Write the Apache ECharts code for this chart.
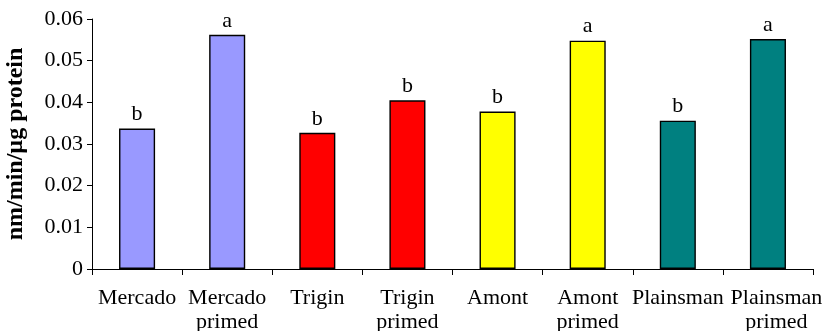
<!DOCTYPE html>
<html><head><meta charset="utf-8">
<script src="https://cdn.jsdelivr.net/npm/echarts@6/dist/echarts.min.js"></script>
<style>html,body{margin:0;padding:0;background:#fff}#c{width:827px;height:331px}</style>
</head><body><div id="c"></div>
<script>
const categories = ['Mercado', 'Mercado\nprimed', 'Trigin', 'Trigin\nprimed', 'Amont', 'Amont\nprimed', 'Plainsman', 'Plainsman\nprimed'];
const values = [0.0337, 0.0562, 0.0327, 0.0405, 0.0378, 0.0548, 0.0356, 0.0552];
const letters = ['b', 'a', 'b', 'b', 'b', 'a', 'b', 'a'];
const colors = ['#9999FF', '#9999FF', '#FF0000', '#FF0000', '#FFFF00', '#FFFF00', '#008080', '#008080'];
const yTicks = [0, 0.01, 0.02, 0.03, 0.04, 0.05, 0.06];
const yName = 'nm/min/µg protein';

const font = 'Liberation Serif';
const chart = echarts.init(document.getElementById('c'), null, {renderer: 'canvas'});
const lastIdx = categories.length - 1;
chart.setOption({
  backgroundColor: '#fff',
  animation: false,
  grid: {left: 92, right: 14, top: 19, bottom: 62, containLabel: false, outerBoundsMode: 'none'},
  xAxis: {
    type: 'category',
    data: categories.map((c, i) => i === lastIdx ? {value: c, textStyle: {padding: [0, 0, 0, 17]}} : c),
    axisLine: {lineStyle: {color: '#000', width: 1}},
    axisTick: {show: true, length: 6, lineStyle: {color: '#000'}, alignWithLabel: false},
    axisLabel: {color: '#000', fontFamily: font, fontSize: 22, margin: 17, lineHeight: 24, interval: 0, hideOverlap: false}
  },
  yAxis: {
    type: 'value',
    min: yTicks[0], max: yTicks[yTicks.length - 1], interval: 0.01,
    name: yName,
    nameLocation: 'middle',
    nameGap: 64,
    nameTextStyle: {color: '#000', fontFamily: font, fontSize: 24, fontWeight: 'bold'},
    axisLine: {show: true, lineStyle: {color: '#000', width: 1}},
    axisTick: {show: true, length: 5, lineStyle: {color: '#000'}},
    splitLine: {show: false},
    axisLabel: {color: '#000', fontFamily: font, fontSize: 22, margin: 9,
      formatter: v => (v === 0 ? '0' : v.toFixed(2))}
  },
  series: [{
    type: 'bar',
    barWidth: '40%',
    data: values.map((v, i) => ({
      value: v,
      itemStyle: {color: colors[i], borderColor: '#000', borderWidth: 1.4},
      label: {show: true, formatter: letters[i]}
    })),
    label: {show: true, position: 'top', distance: 3, color: '#000', fontFamily: font, fontSize: 22}
  }]
});
</script></body></html>
